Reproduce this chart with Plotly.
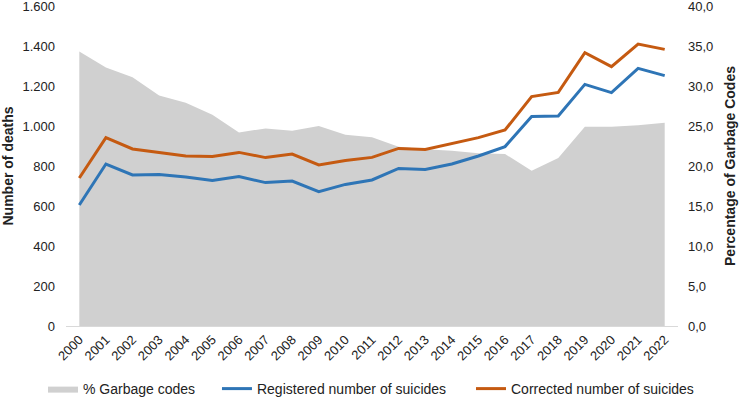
import plotly.graph_objects as go

years = [str(y) for y in range(2000, 2023)]
garbage_pct = [34.3, 32.3, 31.1, 28.8, 27.9, 26.4, 24.2, 24.7, 24.4, 25.0, 23.9, 23.6,
               22.4, 22.1, 21.9, 21.6, 21.5, 19.4, 21.0, 24.9, 24.9, 25.1, 25.4]
registered = [605, 810, 755, 758, 745, 728, 747, 717, 725, 672, 708, 730,
              788, 783, 810, 850, 897, 1047, 1050, 1208, 1167, 1288, 1252]
corrected = [740, 942, 885, 867, 850, 847, 868, 842, 860, 805, 827, 843,
             888, 883, 913, 942, 980, 1147, 1168, 1367, 1297, 1410, 1383]

left_ticks = [0, 200, 400, 600, 800, 1000, 1200, 1400, 1600]
right_ticks = [0, 5, 10, 15, 20, 25, 30, 35, 40]

FONT = "Liberation Sans, Arial, sans-serif"

fig = go.Figure()
fig.add_trace(go.Scatter(x=years, y=garbage_pct, name="% Garbage codes", mode="lines",
                         fill="tozeroy", fillcolor="#d0d0d0", line=dict(width=0, color="#d0d0d0"),
                         yaxis="y", legend="legend", showlegend=True, hoverinfo="skip"))
fig.add_trace(go.Scatter(x=years, y=registered, name="Registered number of suicides", mode="lines",
                         line=dict(color="#2e75b6", width=3), yaxis="y2", legend="legend2"))
fig.add_trace(go.Scatter(x=years, y=corrected, name="Corrected number of suicides", mode="lines",
                         line=dict(color="#c55a11", width=3), yaxis="y2", legend="legend3"))

leg_common = dict(orientation="h", xref="container", yref="container",
                  yanchor="middle", y=0.0226, xanchor="left",
                  font=dict(family=FONT, size=14, color="#222"), bgcolor="rgba(0,0,0,0)")

fig.update_layout(
    width=740, height=398,
    showlegend=True,
    margin=dict(l=66, r=62, t=6, b=72, autoexpand=False),
    paper_bgcolor="white", plot_bgcolor="white",
    separators=",.",
    font=dict(family=FONT, size=13, color="#222"),
    xaxis=dict(type="category", range=[-0.5, 22.5], tickangle=-45, showgrid=False,
               showline=True, linecolor="#d9d9d9", linewidth=1, ticks="",
               tickfont=dict(size=13), automargin=False),
    yaxis=dict(side="right", range=[0, 40], tickvals=right_ticks, tickformat=".1f",
               showgrid=False, zeroline=False, ticks="", automargin=False,
               ticklabeloverflow="allow", ticklabelstandoff=9,
               title=dict(text="<b>Percentage of Garbage Codes</b>", font=dict(size=14), standoff=12)),
    yaxis2=dict(side="left", overlaying="y", range=[0, 1600], tickvals=left_ticks, tickformat=",d",
                showgrid=False, zeroline=False, ticks="", automargin=False,
                ticklabeloverflow="allow", ticklabelstandoff=10,
                title=dict(text="<b>Number of deaths</b>", font=dict(size=14), standoff=16)),
    legend=dict(x=0.0581, **leg_common),
    legend2=dict(x=0.2932, **leg_common),
    legend3=dict(x=0.6365, **leg_common),
)

fig.write_html("out.html", config={"displayModeBar": False},
               post_script="document.body.style.margin='0';")
